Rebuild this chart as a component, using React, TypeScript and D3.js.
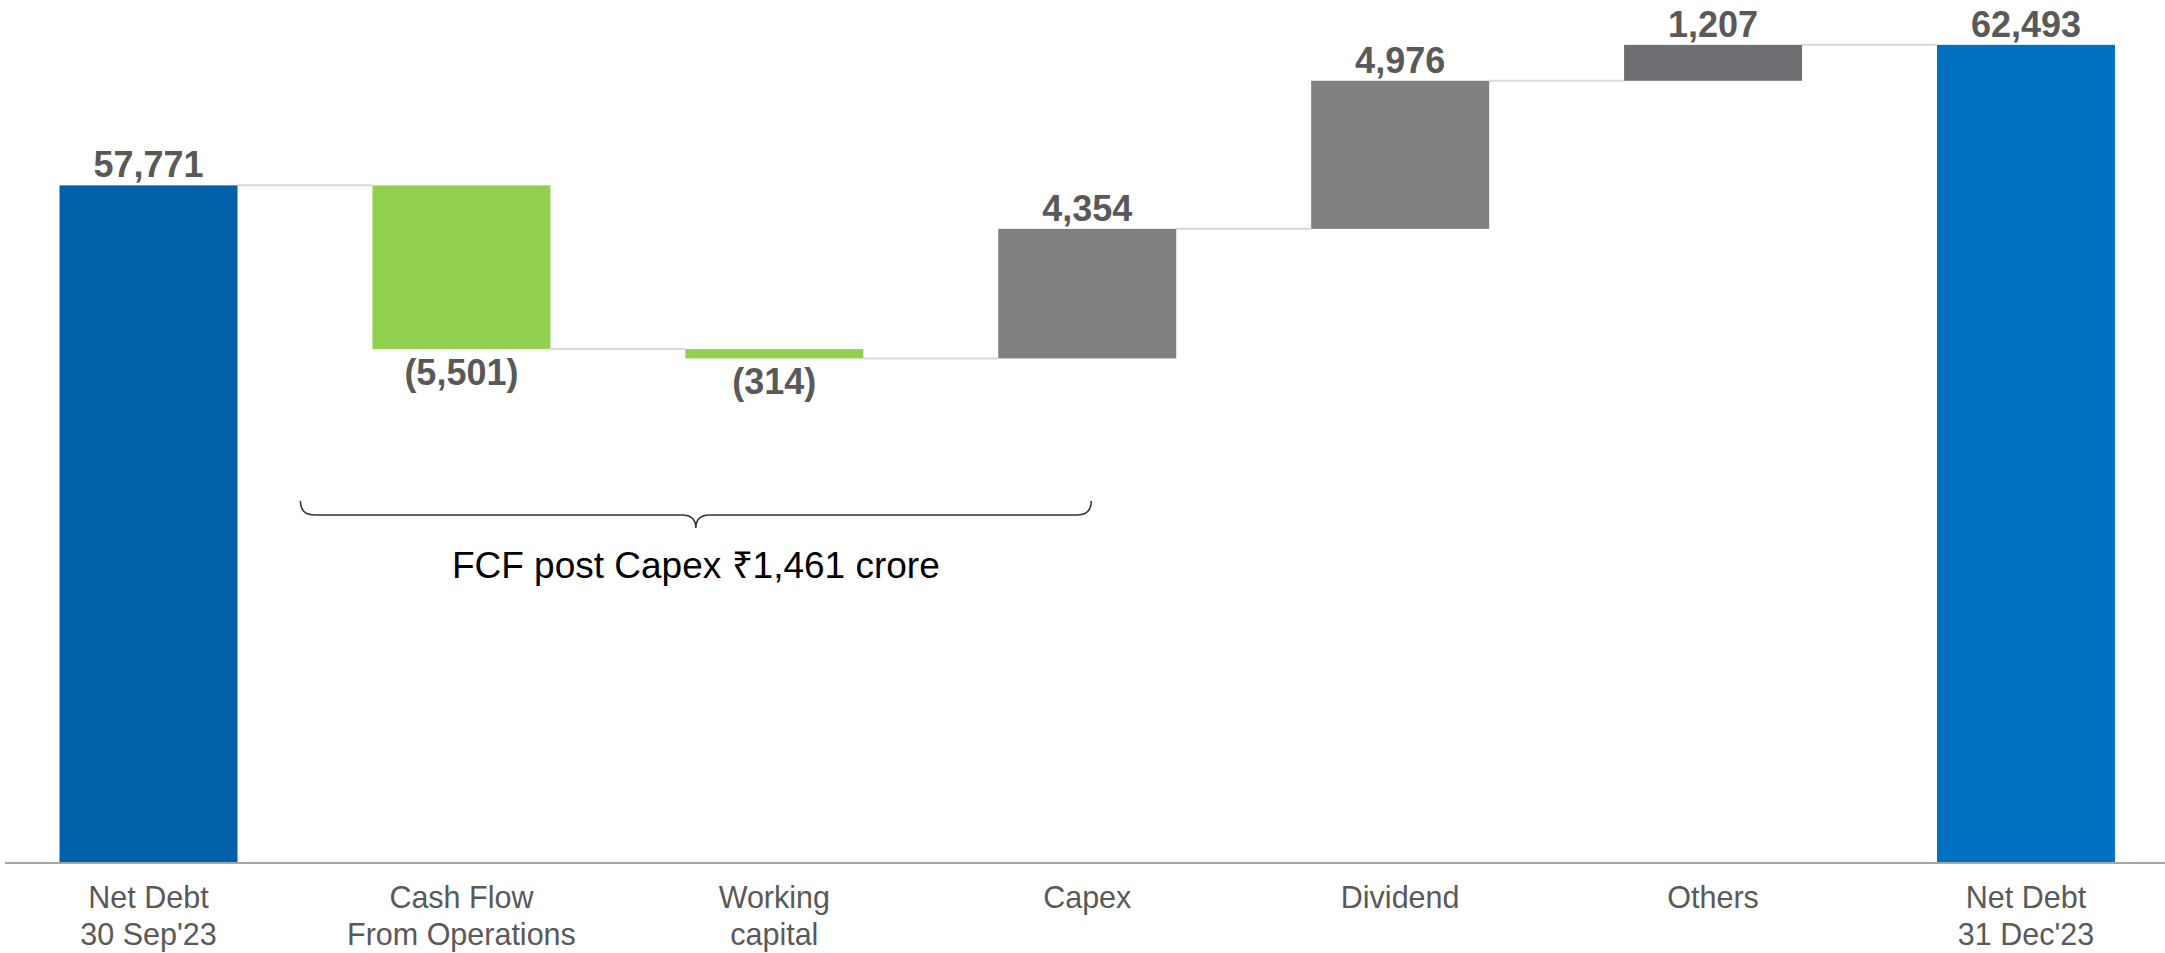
import React from "react";
import * as d3 from "d3";

const categories = [
  ["Net Debt", "30 Sep'23"],
  ["Cash Flow", "From Operations"],
  ["Working", "capital"],
  ["Capex"],
  ["Dividend"],
  ["Others"],
  ["Net Debt", "31 Dec'23"],
];
const values = [57771, -5501, -314, 4354, 4976, 1207, 62493];
const kinds = ["total", "delta", "delta", "delta", "delta", "delta", "total"];
const valueLabels = ["57,771", "(5,501)", "(314)", "4,354", "4,976", "1,207", "62,493"];
const colors = ["#0061A8", "#92D050", "#92D050", "#808080", "#808080", "#6D6E71", "#0071C1"];
const bracketFrom = 1;
const bracketTo = 3;
const bracketText = "FCF post Capex \u20B91,461 crore";

const W = 2165;
const H = 953;
const FONT = "'Liberation Sans', Arial, sans-serif";

export default function App() {
  const x = d3
    .scalePoint<number>()
    .domain(d3.range(categories.length))
    .range([148.5, 2026]);
  const bw = 178;
  const y = d3.scaleLinear().domain([35000, 64000]).range([863, 0]);

  let running = 0;
  const segs = values.map((v, i) => {
    let lo: number, hi: number, end: number;
    if (kinds[i] === "total") {
      lo = y.domain()[0];
      hi = v;
      end = v;
    } else {
      const start = running;
      end = running + v;
      lo = Math.min(start, end);
      hi = Math.max(start, end);
    }
    running = end;
    return { i, v, lo, hi, end };
  });

  const bx0 = (x(bracketFrom) as number) - bw / 2 - 72;
  const bx1 = (x(bracketTo) as number) + bw / 2 - 85;
  const bmid = (bx0 + bx1) / 2;
  const bTop = 501;
  const bLine = 515;
  const bTip = 528;
  const r = 14;
  const bracketPath = [
    `M${bx0},${bTop}`,
    `Q${bx0},${bLine} ${bx0 + r},${bLine}`,
    `L${bmid - r},${bLine}`,
    `Q${bmid},${bLine} ${bmid},${bTip}`,
    `Q${bmid},${bLine} ${bmid + r},${bLine}`,
    `L${bx1 - r},${bLine}`,
    `Q${bx1},${bLine} ${bx1},${bTop}`,
  ].join(" ");

  return (
    <svg
      width={W}
      height={H}
      style={{ position: "absolute", left: 0, top: 0, background: "#fff" }}
      fontFamily={FONT}
    >
      {segs.slice(0, -1).map((s, i) => {
        const cx0 = (x(i) as number) + bw / 2;
        const cx1 = (x(i + 1) as number) - bw / 2;
        return (
          <line
            key={"c" + i}
            x1={cx0}
            x2={cx1}
            y1={y(s.end)}
            y2={y(s.end)}
            stroke="#D9D9D9"
            strokeWidth={2}
          />
        );
      })}
      {segs.map((s) => (
        <rect
          key={"b" + s.i}
          x={(x(s.i) as number) - bw / 2}
          y={y(s.hi)}
          width={bw}
          height={y(s.lo) - y(s.hi)}
          fill={colors[s.i]}
        />
      ))}
      {segs.map((s) => {
        const neg = s.v < 0;
        return (
          <text
            key={"v" + s.i}
            x={x(s.i) as number}
            y={neg ? y(s.lo) + 36 : y(s.hi) - 8}
            textAnchor="middle"
            fontSize={36}
            fontWeight="bold"
            fill="#595959"
          >
            {valueLabels[s.i]}
          </text>
        );
      })}
      <line x1={5} x2={W} y1={863} y2={863} stroke="#A6A6A6" strokeWidth={2} />
      {categories.map((lines, i) => (
        <text
          key={"k" + i}
          x={x(i) as number}
          y={908}
          textAnchor="middle"
          fontSize={30.5}
          fill="#595959"
        >
          {lines.map((t, j) => (
            <tspan key={j} x={x(i) as number} dy={j === 0 ? 0 : 37}>
              {t}
            </tspan>
          ))}
        </text>
      ))}
      <path d={bracketPath} fill="none" stroke="#333" strokeWidth={1.6} />
      <text x={bmid} y={578} textAnchor="middle" fontSize={37} fill="#000">
        {bracketText}
      </text>
    </svg>
  );
}
